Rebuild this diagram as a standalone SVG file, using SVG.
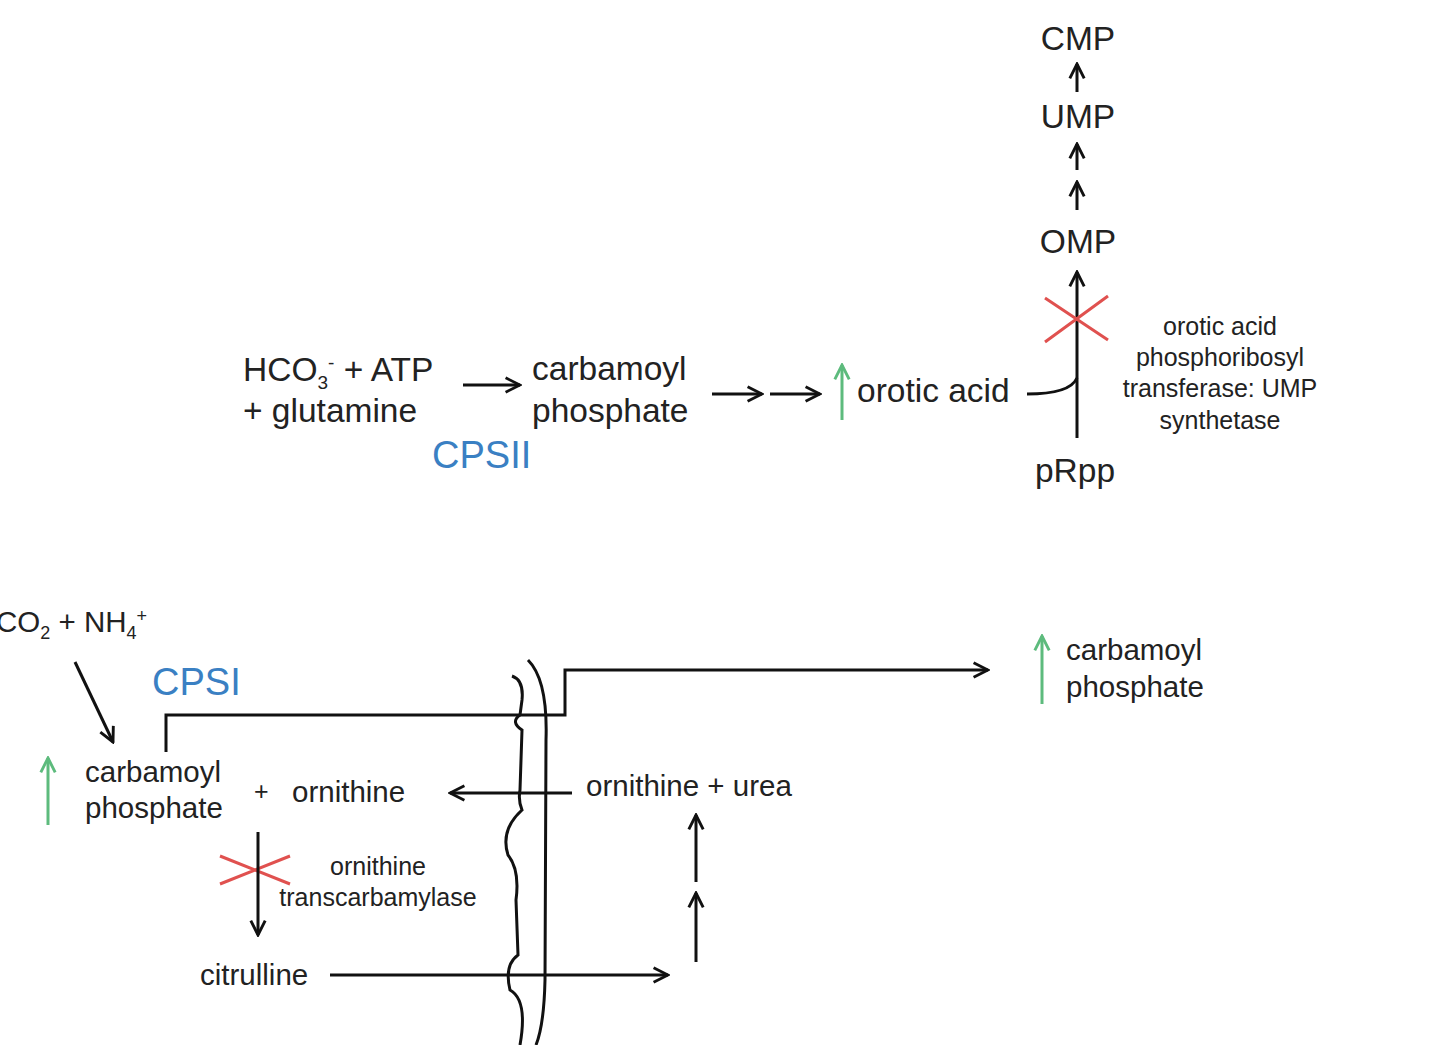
<svg xmlns="http://www.w3.org/2000/svg" width="1440" height="1045" viewBox="0 0 1440 1045">
<style>
text{font-family:"Liberation Sans",Arial,sans-serif;fill:#222}
.m{font-size:33.5px}.t{font-size:29.5px}.s{font-size:25px}.b{font-size:38px;fill:#3a80c3}
.l{stroke:#111;stroke-width:3;fill:none}
.g{stroke:#5dbb7d;stroke-width:3;fill:none}
.r{stroke:#e0514f;stroke-width:3;fill:none}
</style>
<defs>
<marker id="a" viewBox="0 0 10 10" refX="9" refY="5" markerWidth="6" markerHeight="6" orient="auto"><path d="M1 1L9 5L1 9" fill="none" stroke="#111" stroke-width="1.6"/></marker>
<marker id="ag" viewBox="0 0 10 10" refX="9" refY="5" markerWidth="6" markerHeight="6" orient="auto"><path d="M1 1L9 5L1 9" fill="none" stroke="#5dbb7d" stroke-width="1.6"/></marker>
</defs>
<g id="nodes">
<g id="cmp"><text class="m" x="1078" y="50" text-anchor="middle">CMP</text></g>
<g id="ump"><text class="m" x="1078" y="128" text-anchor="middle">UMP</text></g>
<g id="omp"><text class="m" x="1078" y="253" text-anchor="middle">OMP</text></g>
<g id="prpp"><text class="m" x="1075" y="482" text-anchor="middle">pRpp</text></g>
<g id="oprt"><text class="s" text-anchor="middle"><tspan x="1220" y="335">orotic acid</tspan><tspan x="1220" y="366">phosphoribosyl</tspan><tspan x="1220" y="397">transferase: UMP</tspan><tspan x="1220" y="429">synthetase</tspan></text></g>
<g id="hco3"><text class="m" x="243" y="381">HCO<tspan font-size="19" dy="8">3</tspan><tspan font-size="19" dy="-20">-</tspan><tspan dy="12"> + ATP</tspan></text><text class="m" x="243" y="422">+ glutamine</text></g>
<g id="cp1"><text class="m" x="532" y="380">carbamoyl</text><text class="m" x="532" y="422">phosphate</text></g>
<g id="cpsii"><text class="b" x="432" y="468">CPSII</text></g>
<g id="orotic"><text class="m" x="857" y="402">orotic acid</text></g>
<g id="co2"><text class="t" x="-4" y="632">CO<tspan font-size="18" dy="7">2</tspan><tspan dy="-7"> + NH</tspan><tspan font-size="18" dy="7">4</tspan><tspan font-size="18" dy="-17">+</tspan></text></g>
<g id="cpsi"><text class="b" x="152" y="695">CPSI</text></g>
<g id="cp2"><text class="t" x="85" y="782">carbamoyl</text><text class="t" x="85" y="818">phosphate</text><text class="s" x="254" y="800">+</text><text class="t" x="292" y="802">ornithine</text></g>
<g id="otc"><text class="s" text-anchor="middle"><tspan x="378" y="875">ornithine</tspan><tspan x="378" y="906">transcarbamylase</tspan></text></g>
<g id="citrulline"><text class="t" x="200" y="985">citrulline</text></g>
<g id="ornurea"><text class="t" x="586" y="796">ornithine + urea</text></g>
<g id="cp3"><text class="t" x="1066" y="660">carbamoyl</text><text class="t" x="1066" y="697">phosphate</text></g>
<g id="membrane"><path class="l" stroke-width="2.5" d="M512 676 Q524 680 522 700 L520 715 Q510 722 522 730 L520 790 Q518 800 522 810 Q500 830 508 855 Q520 870 516 900 L518 955 Q504 965 510 990 Q528 1000 520 1045"/><path class="l" stroke-width="2.5" d="M528 660 Q548 680 546 740 L545 980 Q544 1025 536 1045"/></g>
</g>
<g id="connectors">
<path class="l" marker-end="url(#a)" d="M1077 92V64"/>
<path class="l" marker-end="url(#a)" d="M1077 170V144"/>
<path class="l" marker-end="url(#a)" d="M1077 210V182"/>
<path class="l" marker-end="url(#a)" d="M1077 438V272"/>
<path class="l" d="M1027 394Q1070 394 1077 378"/>
<path class="r" d="M1045 342L1108 296M1045 298L1108 340M220 884L290 856M220 856L290 884"/>
<path class="l" marker-end="url(#a)" d="M463 385H520"/>
<path class="l" marker-end="url(#a)" d="M712 394H762"/>
<path class="l" marker-end="url(#a)" d="M770 394H820"/>
<path class="g" marker-end="url(#ag)" d="M842 420V365"/>
<path class="g" marker-end="url(#ag)" d="M48 825V758"/>
<path class="g" marker-end="url(#ag)" d="M1042 704V636"/>
<path class="l" marker-end="url(#a)" d="M75 662L113 742"/>
<path class="l" marker-end="url(#a)" d="M166 752V715H565V670H988"/>
<path class="l" marker-end="url(#a)" d="M572 793H450"/>
<path class="l" marker-end="url(#a)" d="M258 832V935"/>
<path class="l" marker-end="url(#a)" d="M330 975H668"/>
<path class="l" marker-end="url(#a)" d="M696 962V893"/>
<path class="l" marker-end="url(#a)" d="M696 882V815"/>
</g>
</svg>
